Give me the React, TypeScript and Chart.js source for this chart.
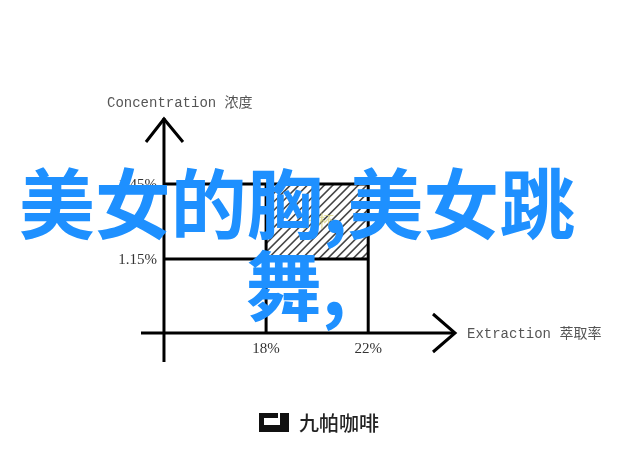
import React, { useEffect, useRef } from "react";
import { Chart, registerables } from "chart.js";

Chart.register(...registerables);

// Brewing control chart data
const extractionTicks = [18, 22]; // %
const concentrationTicks = [1.15, 1.45]; // %
const extractionTickLabels = ["18%", "22%"];
const concentrationTickLabels = ["1.15%", "1.45%"];
const originValues = [14, 0.854]; // axis crossing [extraction, concentration]
const xBounds = [13.1, 25.4];
const yBounds = [0.738, 1.714];
const xAxisTitle = "Extraction 萃取率";
const yAxisTitle = "Concentration 浓度";
const overlayLines = ["美女的胸,美女跳", "舞,"];
const brandName = "九帕咖啡";

const LINE = "#000000";

const decorPlugin = {
  id: "decor",
  beforeDatasetsDraw(chart: any) {
    const { ctx, scales } = chart;
    const x = scales.x;
    const y = scales.y;
    const l = x.getPixelForValue(extractionTicks[0]);
    const r = x.getPixelForValue(extractionTicks[1]);
    const t = y.getPixelForValue(concentrationTicks[1]);
    const b = y.getPixelForValue(concentrationTicks[0]);
    ctx.save();
    ctx.beginPath();
    ctx.rect(l, t, r - l, b - t);
    ctx.clip();
    ctx.strokeStyle = "#444";
    ctx.lineWidth = 1.6;
    const h = b - t;
    for (let s = l - h; s < r + 10; s += 8.5) {
      ctx.beginPath();
      ctx.moveTo(s, b);
      ctx.lineTo(s + h, t);
      ctx.stroke();
    }
    ctx.restore();
  },
  afterDraw(chart: any) {
    const { ctx, scales } = chart;
    const x = scales.x;
    const y = scales.y;
    const ox = x.getPixelForValue(originValues[0]);
    const oy = y.getPixelForValue(originValues[1]);
    const topY = y.getPixelForValue(yBounds[1]);
    const rightX = x.getPixelForValue(xBounds[1]);
    ctx.save();
    // arrows
    ctx.strokeStyle = LINE;
    ctx.lineWidth = 3;
    ctx.lineJoin = "miter";
    ctx.beginPath();
    ctx.moveTo(ox - 18, topY + 24);
    ctx.lineTo(ox, topY + 1);
    ctx.lineTo(ox + 19, topY + 24);
    ctx.stroke();
    ctx.beginPath();
    ctx.moveTo(rightX - 22, oy - 19);
    ctx.lineTo(rightX, oy);
    ctx.lineTo(rightX - 22, oy + 19);
    ctx.stroke();

    // axis titles
    ctx.fillStyle = "#555";
    ctx.font = "14px 'Liberation Mono', 'Noto Sans CJK SC', monospace";
    ctx.textBaseline = "middle";
    ctx.textAlign = "left";
    ctx.fillText(yAxisTitle, 107, topY - 15);
    ctx.fillText(xAxisTitle, rightX + 12, oy + 1);

    // tick labels
    ctx.fillStyle = "#333";
    ctx.font = "15px 'Liberation Serif', serif";
    ctx.textAlign = "right";
    concentrationTicks.forEach((v, i) => {
      ctx.fillText(concentrationTickLabels[i], ox - 7, y.getPixelForValue(v) + 1);
    });
    ctx.textAlign = "center";
    extractionTicks.forEach((v, i) => {
      ctx.fillText(extractionTickLabels[i], x.getPixelForValue(v), oy + 16);
    });

    // faint watermark in box
    ctx.fillStyle = "rgba(215,210,120,0.75)";
    ctx.font = "16px 'Noto Sans CJK SC', sans-serif";
    ctx.fillText("分杯", 318, 221);

    // brand logo
    ctx.fillStyle = "#111";
    ctx.beginPath();
    ctx.moveTo(259, 413);
    ctx.lineTo(278, 413);
    ctx.lineTo(278, 418);
    ctx.lineTo(264, 418);
    ctx.lineTo(264, 425);
    ctx.lineTo(280, 425);
    ctx.lineTo(280, 413);
    ctx.lineTo(289, 413);
    ctx.lineTo(289, 432);
    ctx.lineTo(259, 432);
    ctx.closePath();
    ctx.fill();
    ctx.fillStyle = "#222";
    ctx.font = "500 20px 'Noto Sans CJK SC', sans-serif";
    ctx.textAlign = "left";
    ctx.fillText(brandName, 299, 423);

    // overlay text
    ctx.fillStyle = "rgb(30,144,255)";
    ctx.font = "bold 76px 'Noto Sans CJK SC', sans-serif";
    ctx.textAlign = "center";
    ctx.fillText(overlayLines[0], 297, 204);
    ctx.fillText(overlayLines[1], 296, 286);
    ctx.restore();
  },
};

export default function App() {
  const ref = useRef<HTMLCanvasElement | null>(null);
  useEffect(() => {
    if (!ref.current) return;
    const [ex0, ex1] = extractionTicks;
    const [c0, c1] = concentrationTicks;
    const [ox, oy] = originValues;
    const seg = (pts: { x: number; y: number }[]) => ({
      data: pts,
      showLine: true,
      borderColor: LINE,
      borderWidth: 3,
      pointRadius: 0,
      borderCapStyle: "butt" as const,
    });
    const chart = new Chart(ref.current, {
      type: "scatter",
      data: {
        datasets: [
          seg([{ x: ox, y: c1 }, { x: ex1, y: c1 }]),
          seg([{ x: ox, y: c0 }, { x: ex1, y: c0 }]),
          seg([{ x: ex0, y: oy }, { x: ex0, y: c1 }]),
          seg([{ x: ex1, y: oy }, { x: ex1, y: c1 }]),
          seg([{ x: xBounds[0], y: oy }, { x: xBounds[1], y: oy }]),
          seg([{ x: ox, y: yBounds[0] }, { x: ox, y: yBounds[1] }]),
        ],
      },
      options: {
        animation: false,
        responsive: false,
        layout: { padding: { left: 141, right: 185, top: 118, bottom: 98 } },
        plugins: { legend: { display: false }, tooltip: { enabled: false } },
        scales: {
          x: { type: "linear", min: xBounds[0], max: xBounds[1], display: false },
          y: { type: "linear", min: yBounds[0], max: yBounds[1], display: false },
        },
      },
      plugins: [decorPlugin],
    });
    return () => chart.destroy();
  }, []);
  return (
    <div style={{ position: "absolute", left: 0, top: 0, width: 640, height: 460, background: "#fff" }}>
      <canvas ref={ref} width={640} height={460} />
    </div>
  );
}
